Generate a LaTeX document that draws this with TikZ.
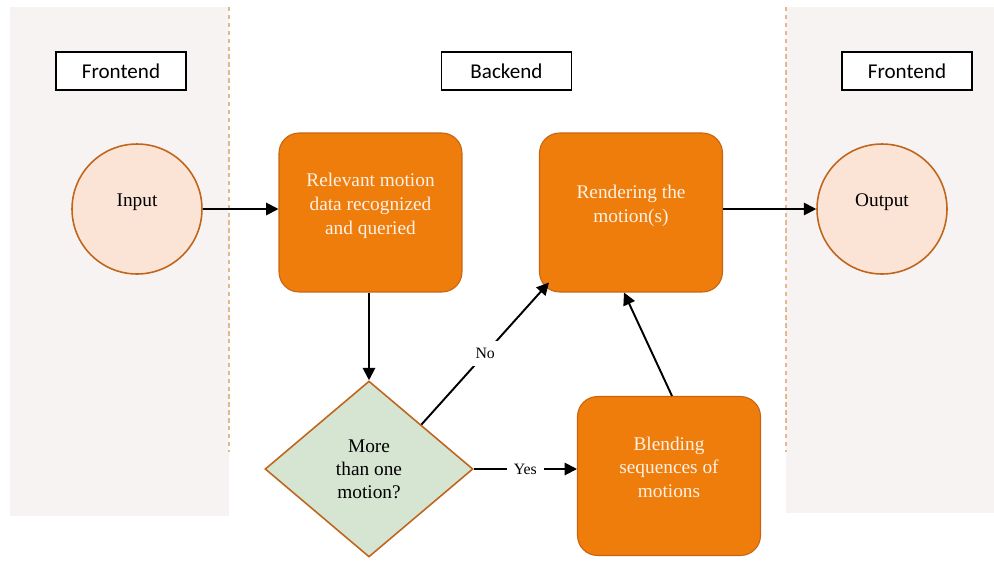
\documentclass[tikz,border=0pt]{standalone}
\usepackage{fontspec}
\newfontfamily\timesface{Liberation Serif}
\newfontfamily\calface{Carlito}
\usepackage{tikz}
\usetikzlibrary{shapes.geometric,arrows.meta}
\definecolor{panelbg}{HTML}{F7F3F2}
\definecolor{dashtan}{HTML}{E0B98E}
\definecolor{procfill}{HTML}{EE7D0B}
\definecolor{procline}{HTML}{C86410}
\definecolor{proctext}{HTML}{FDF1E7}
\definecolor{iofill}{HTML}{FBE4D5}
\definecolor{ioline}{HTML}{C0651C}
\definecolor{decfill}{HTML}{D5E5D2}
\tikzset{
  tag/.style={draw, line width=0.9pt, fill=white, minimum width=2.6cm, minimum height=0.76cm,
    font=\calface\fontsize{12}{14}\selectfont},
  io/.style={circle, draw=ioline, fill=iofill, line width=0.9pt, minimum size=2.6cm, text depth=10pt,
    font=\timesface\fontsize{11}{13.6}\selectfont},
  proc/.style={draw=procline, fill=procfill, line width=0.6pt, rounded corners=0.4cm,
    minimum width=3.66cm, minimum height=3.18cm, text=proctext, align=center, text depth=10pt,
    font=\timesface\fontsize{11}{13.6}\selectfont},
  dec/.style={diamond, draw=ioline, fill=decfill, line width=0.9pt, minimum width=4.16cm,
    minimum height=3.52cm, inner sep=0pt, align=center, font=\timesface\fontsize{11}{13}\selectfont},
  flow/.style={-{Triangle[length=7pt,width=7pt]}, line width=1.1pt},
  gap/.style={fill=white, inner sep=4pt, font=\timesface\fontsize{9}{10}\selectfont}
}
\begin{document}
\begin{tikzpicture}[x=0.02cm,y=-0.02cm]
      \useasboundingbox (0,0) rectangle (994,562);
      \fill[panelbg] (10,7) rectangle (229,516);
      \fill[panelbg] (786,7) rectangle (994,513);
      \draw[dashtan, line width=1pt, dash pattern=on 2.5pt off 2pt] (229,7) -- (229,452);
      \draw[dashtan, line width=1pt, dash pattern=on 2.5pt off 2pt] (786,7) -- (786,452);

      \node (fl) at (121,71) [tag] {Frontend};
      \node (bk) at (506.5,71) [tag] {Backend};
      \node (fr) at (907,71) [tag] {Frontend};

      \node (in) at (137,209) [io] {Input};
      \node (out) at (882,209) [io] {Output};

      \node (rel) at (370.5,212.5) [proc] {Relevant motion\\data recognized\\and queried};
      \node (rnd) at (631,212.5) [proc] {Rendering the\\motion(s)};
      \node (bl) at (669,476) [proc] {Blending\\sequences of\\motions};
      \node (dec) at (369,469) [dec] {More\\than one\\motion?};

      \draw[flow] (in) -- (in -| rel.west);
      \draw[flow] (dec.north |- rel.south) -- (dec.north);
      \draw[flow] (dec.north east) -- node[gap] {No} ([shift={(10,-10)}]rnd.south west);
      \draw[flow] (dec.east) -- node[gap] {Yes} (dec.east -| bl.west);
      \draw[flow] ([shift={(3,0)}]bl.north) -- ([shift={(-7,0)}]rnd.south);
      \draw[flow] (rnd.east |- out) -- (out);
\end{tikzpicture}
\end{document}
